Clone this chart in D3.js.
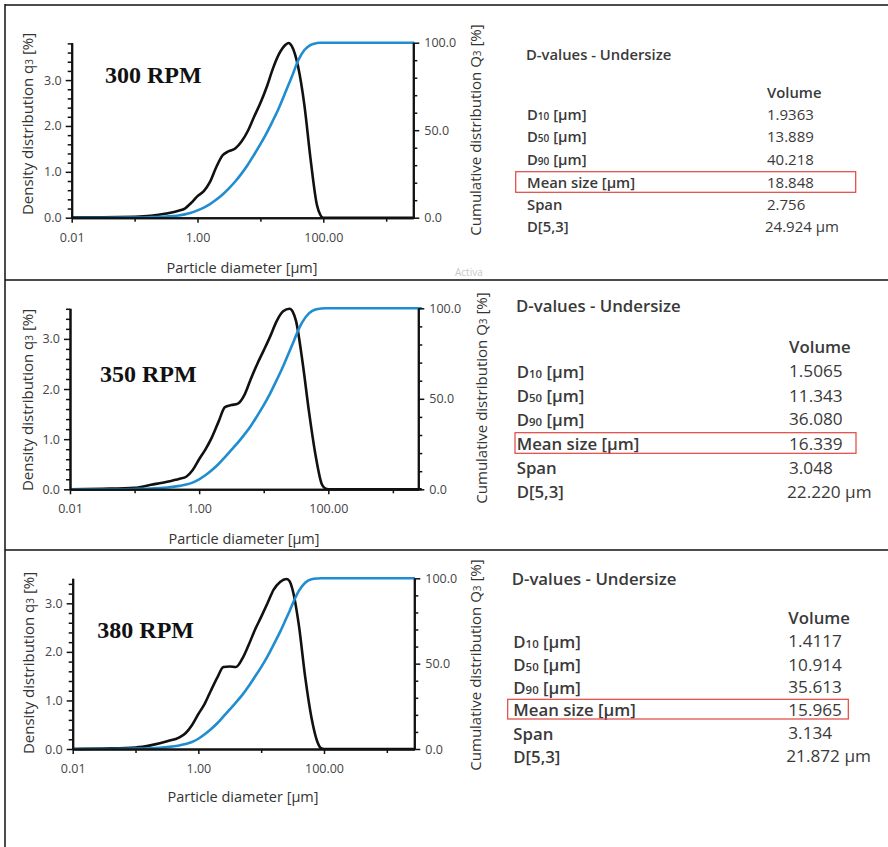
<!DOCTYPE html>
<html>
<head>
<meta charset="utf-8">
<script src="https://cdn.jsdelivr.net/npm/d3@7"></script>
<style>
body{margin:0;background:#fff}
svg{display:block}
</style>
</head>
<body>
<svg id="chart"></svg>
<script>
// particle diameters (µm) shared by all curves
var diam = [0.01, 0.032, 0.1, 0.18, 0.32, 0.5, 0.63, 0.79, 1.0, 1.26, 1.58, 2.0, 2.51, 3.16, 3.98, 5.01,
    6.31, 7.94, 10.0, 12.6, 15.8, 20.0, 25.1, 28.2, 31.6, 39.8, 50.1, 63.1, 79.4, 89.1, 100, 2800];

// density distribution q3 [%]
var q3_300 = [0.01, 0.01, 0.02, 0.04, 0.09, 0.15, 0.2, 0.32, 0.47, 0.58, 0.78, 1.11, 1.36, 1.45, 1.51, 1.66,
    1.89, 2.2, 2.5, 2.85, 3.25, 3.58, 3.77, 3.81, 3.74, 3.29, 2.45, 1.25, 0.27, 0.07, 0, 0];
var q3_350 = [0, 0.01, 0.03, 0.09, 0.15, 0.21, 0.25, 0.38, 0.6, 0.8, 1.04, 1.35, 1.64, 1.68, 1.71, 1.88,
    2.2, 2.5, 2.77, 3.05, 3.35, 3.55, 3.6, 3.54, 3.36, 2.55, 1.56, 0.7, 0.1, 0.02, 0, 0];
var q3_380 = [0, 0.01, 0.03, 0.08, 0.16, 0.24, 0.33, 0.49, 0.72, 0.93, 1.2, 1.47, 1.69, 1.7, 1.69, 1.86,
    2.14, 2.45, 2.72, 3.0, 3.28, 3.44, 3.5, 3.46, 3.28, 2.55, 1.49, 0.65, 0.13, 0.02, 0, 0];

// cumulative distribution Q3 [%]
var Q3_300 = [0, 0, 0.1, 0.3, 0.7, 1.3, 1.9, 2.8, 4.2, 5.8, 7.8, 10.4, 13.3, 16.8, 20.7, 25.2,
    30.3, 36, 42, 48.5, 55.5, 63.3, 71.8, 76.3, 80.5, 89.8, 95.8, 98.8, 99.8, 100, 100, 100];
var Q3_350 = [0, 0, 0.2, 0.4, 1.0, 1.9, 2.6, 3.7, 5.5, 7.9, 10.7, 14.0, 17.8, 21.8, 25.8, 30.2,
    35.0, 40.6, 46.5, 53, 60.2, 68.0, 76.3, 80.5, 85, 92.5, 97.2, 99.3, 99.9, 100, 100, 100];
var Q3_380 = [0, 0, 0.2, 0.4, 1.1, 2.1, 2.9, 4.1, 6.0, 8.6, 11.6, 15.1, 19.1, 23.2, 27.3, 31.7,
    36.8, 42.3, 48.0, 54.3, 61.2, 68.6, 76.6, 80.6, 85, 92.6, 97.4, 99.4, 99.9, 100, 100, 100];

var rpmLabels = ["300 RPM", "350 RPM", "380 RPM"];

// D-values table
var rowNames = [["D", "10", " [µm]"], ["D", "50", " [µm]"], ["D", "90", " [µm]"],
    ["Mean size [µm]", "", ""], ["Span", "", ""], ["D[5,3]", "", ""]];
var dv_300 = ["1.9363", "13.889", "40.218", "18.848", "2.756", "24.924 µm"];
var dv_350 = ["1.5065", "11.343", "36.080", "16.339", "3.048", "22.220 µm"];
var dv_380 = ["1.4117", "10.914", "35.613", "15.965", "3.134", "21.872 µm"];

var WIDTH = 888, HEIGHT = 847;
var svg = d3.select("#chart").attr("width", WIDTH).attr("height", HEIGHT);
var FONT = "'Open Sans', 'Noto Sans', sans-serif";

// frame lines
svg.append("line").attr("x1", 5).attr("x2", 5).attr("y1", 4).attr("y2", HEIGHT).attr("stroke", "#111").attr("stroke-width", 1.5);
[5, 280, 550].forEach(function(y){
    svg.append("line").attr("x1", 5).attr("x2", WIDTH).attr("y1", y).attr("y2", y).attr("stroke", "#111").attr("stroke-width", 1.5);
});

var panels = [
  {q: q3_300, Q: Q3_300, dv: dv_300, rpm: rpmLabels[0],
   left: 71.7, right: 413.3, x100: 323.3, top: 42.7, bottom: 217.7, yMax: 3.815,
   rpmX: 105, rpmY: 83, lLabX: 27, lLabY: 124, rLabX: 475, rLabY: 130, xLabX: 242, xLabY: 267,
   fs: 14.8, vfs: 15, titleX: 526, titleY: 54, volX: 767, volY: 92, rowX: 527, rows: [114, 136, 159, 182, 204, 226],
   box: [515.7, 171.7, 855.7, 192.3]},
  {q: q3_350, Q: Q3_350, dv: dv_350, rpm: rpmLabels[1],
   left: 70, right: 418.3, x100: 328.3, top: 308.3, bottom: 489.3, yMax: 3.61,
   rpmX: 100, rpmY: 381.7, lLabX: 27, lLabY: 400, rLabX: 481, rLabY: 398, xLabX: 244, xLabY: 538,
   fs: 16.8, vfs: 17.2, titleX: 516, titleY: 305, volX: 789, volY: 346.7, rowX: 516.7, rows: [370.7, 395.3, 418.7, 443, 467.3, 491.3],
   box: [515, 432.7, 856, 453.3]},
  {q: q3_380, Q: Q3_380, dv: dv_380, rpm: rpmLabels[2],
   left: 72.7, right: 414.3, x100: 324, top: 578.3, bottom: 749, yMax: 3.515,
   rpmX: 97.3, rpmY: 638.3, lLabX: 28, lLabY: 663, rLabX: 475, rLabY: 665, xLabX: 243, xLabY: 796,
   fs: 16.8, vfs: 17.2, titleX: 511.7, titleY: 578.3, volX: 788.3, volY: 617.7, rowX: 513.3, rows: [640.7, 664, 686.7, 709.3, 732.7, 755.7],
   box: [507.7, 699.3, 848.3, 719]}
];

panels.forEach(function(p){
    var dec = (p.x100 - p.left) / 4;
    var xMax = Math.pow(10, -2 + (p.right - p.left) / dec);
    var x = d3.scaleLog().domain([0.01, xMax]).range([p.left, p.right]);
    var y = d3.scaleLinear().domain([0, p.yMax]).range([p.bottom, p.top]);
    var y2 = d3.scaleLinear().domain([0, 100]).range([p.bottom, p.top]);
    var g = svg.append("g");

    // curves
    var dens = d3.line().x(function(d, i){ return x(diam[i]); }).y(function(d){ return y(d); }).curve(d3.curveMonotoneX);
    var cum = d3.line().x(function(d, i){ return x(diam[i]); }).y(function(d){ return y2(d); }).curve(d3.curveMonotoneX);
    g.append("path").attr("d", dens(p.q)).attr("fill", "none").attr("stroke", "#111").attr("stroke-width", 2.6).attr("stroke-linejoin", "round");
    g.append("path").attr("d", cum(p.Q)).attr("fill", "none").attr("stroke", "#1f8dd0").attr("stroke-width", 2.6).attr("stroke-linejoin", "round");

    // axes
    function styleAxis(sel){
        sel.selectAll("path.domain").attr("stroke", "#111").attr("stroke-width", 2);
        sel.selectAll(".tick line").attr("stroke", "#111").attr("stroke-width", 1.5);
        sel.selectAll("text").attr("fill", "#444").style("font-family", FONT).style("font-size", "12.5px");
    }
    var fmtX = d3.format(".2f");
    g.append("g").attr("transform", "translate(0," + p.bottom + ")")
        .call(d3.axisBottom(x).tickValues([0.1, 10, 1000]).tickSize(4).tickFormat("").tickSizeOuter(0)).call(styleAxis);
    g.append("g").attr("transform", "translate(0," + p.bottom + ")")
        .call(d3.axisBottom(x).tickValues([0.01, 1, 100]).tickSize(5).tickPadding(10).tickFormat(fmtX).tickSizeOuter(0)).call(styleAxis);

    g.append("g").attr("transform", "translate(" + p.left + ",0)")
        .call(d3.axisLeft(y).tickValues(d3.range(0.2, p.yMax, 0.2).filter(function(v){ return Math.abs(v - Math.round(v)) > 0.05; }))
        .tickSize(4).tickFormat("").tickSizeOuter(0)).call(styleAxis);
    g.append("g").attr("transform", "translate(" + p.left + ",0)")
        .call(d3.axisLeft(y).tickValues([0, 1, 2, 3]).tickSize(6).tickPadding(4).tickFormat(d3.format(".1f")).tickSizeOuter(0)).call(styleAxis);

    g.append("g").attr("transform", "translate(" + p.right + ",0)")
        .call(d3.axisRight(y2).tickValues([10, 20, 30, 40, 60, 70, 80, 90]).tickSize(4).tickFormat("").tickSizeOuter(0)).call(styleAxis);
    g.append("g").attr("transform", "translate(" + p.right + ",0)")
        .call(d3.axisRight(y2).tickValues([0, 50, 100]).tickSize(6).tickPadding(5).tickFormat(d3.format(".1f")).tickSizeOuter(0)).call(styleAxis);

    // axis titles
    var lt = g.append("text").attr("transform", "translate(" + p.lLabX + "," + p.lLabY + ") rotate(-90)")
        .attr("text-anchor", "middle").attr("dominant-baseline", "central")
        .style("font-family", FONT).style("font-size", "15px").attr("fill", "#333");
    lt.append("tspan").text("Density distribution q");
    lt.append("tspan").text("3").style("font-size", "10px").attr("dy", 2);
    lt.append("tspan").text(" [%]").attr("dy", -2);

    var rt = g.append("text").attr("transform", "translate(" + p.rLabX + "," + p.rLabY + ") rotate(-90)")
        .attr("text-anchor", "middle").attr("dominant-baseline", "central")
        .style("font-family", FONT).style("font-size", "15px").attr("fill", "#333");
    rt.append("tspan").text("Cumulative distribution Q");
    rt.append("tspan").text("3").style("font-size", "10px").attr("dy", 2);
    rt.append("tspan").text(" [%]").attr("dy", -2);

    g.append("text").attr("x", p.xLabX).attr("y", p.xLabY)
        .attr("text-anchor", "middle").attr("dominant-baseline", "central")
        .style("font-family", FONT).style("font-size", "14.5px").attr("fill", "#333")
        .text("Particle diameter [µm]");

    // RPM label
    g.append("text").attr("x", p.rpmX).attr("y", p.rpmY)
        .style("font-family", "'Liberation Serif', 'Times New Roman', serif").style("font-size", "24px")
        .style("font-weight", "bold").attr("fill", "#111").text(p.rpm);

    // D-values table
    var t = svg.append("g").style("font-family", FONT).attr("fill", "#3a3a3a");
    t.append("text").attr("x", p.titleX).attr("y", p.titleY).attr("dominant-baseline", "central")
        .style("font-size", p.fs + "px").style("font-weight", 600).text("D-values - Undersize");
    t.append("text").attr("x", p.volX).attr("y", p.volY).attr("dominant-baseline", "central")
        .style("font-size", p.fs + "px").style("font-weight", 600).text("Volume");
    rowNames.forEach(function(r, i){
        var tx = t.append("text").attr("x", p.rowX).attr("y", p.rows[i]).attr("dominant-baseline", "central")
            .style("font-size", p.fs + "px").style("font-weight", 600);
        tx.append("tspan").text(r[0]);
        if (r[1]) {
            tx.append("tspan").text(r[1]).style("font-size", (p.fs * 0.68) + "px").attr("dy", 2);
            tx.append("tspan").text(r[2]).attr("dy", -2);
        }
        t.append("text").attr("x", p.volX - (i == 5 ? 2 : 0)).attr("y", p.rows[i]).attr("dominant-baseline", "central")
            .style("font-size", p.vfs + "px").style("font-weight", 500).text(p.dv[i]);
    });
    t.append("rect").attr("x", p.box[0]).attr("y", p.box[1])
        .attr("width", p.box[2] - p.box[0]).attr("height", p.box[3] - p.box[1])
        .attr("fill", "none").attr("stroke", "#e0453f").attr("stroke-width", 1.2);
});

// faint watermark fragment
svg.append("text").attr("x", 455).attr("y", 276).style("font-family", FONT).style("font-size", "10px")
    .attr("fill", "#c8c8c8").text("Activa");
</script>
</body>
</html>
